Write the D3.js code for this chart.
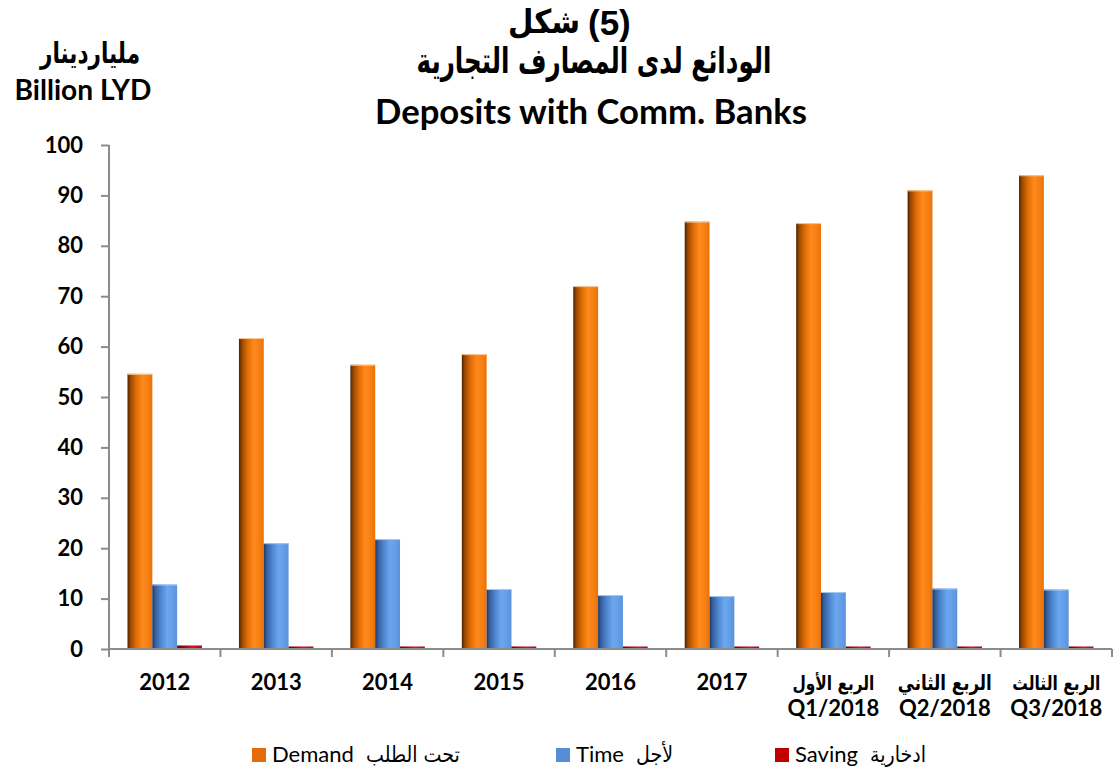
<!DOCTYPE html>
<html><head><meta charset="utf-8">
<script src="https://cdn.jsdelivr.net/npm/d3@7/dist/d3.min.js"></script>
<style>
html,body{margin:0;padding:0;background:#fff;}
svg{display:block;}
</style></head>
<body>
<svg id="chart" width="1114" height="775"></svg>
<script>
// ---------- data ----------
const categories = ["2012","2013","2014","2015","2016","2017","Q1/2018","Q2/2018","Q3/2018"];
const categoriesAr = ["","","","","","","الربع الأول","الربع الثاني","الربع الثالث"];
const demand = [54.6, 61.7, 56.4, 58.5, 72.0, 84.8, 84.5, 91.0, 94.0];
const time   = [12.8, 21.0, 21.8, 11.9, 10.7, 10.5, 11.3, 12.0, 11.8];
const saving = [0.7, 0.5, 0.5, 0.5, 0.5, 0.5, 0.5, 0.5, 0.5];
const seriesNames = ["Demand","Time","Saving"];
const seriesAr = ["تحت الطلب","لأجل","ادخارية"];
const yTicks = [0,10,20,30,40,50,60,70,80,90,100];

const EN = "Lato, 'Open Sans', sans-serif";
const AR = "'DejaVu Sans', sans-serif";
const ARIAL = "'Liberation Sans', Arial, sans-serif";

const svg = d3.select("#chart");
const defs = svg.append("defs");

function grad(id, stops){
  const g = defs.append("linearGradient").attr("id", id)
    .attr("x1","0%").attr("x2","100%").attr("y1","0%").attr("y2","0%");
  stops.forEach(s => g.append("stop").attr("offset", s[0]).attr("stop-color", s[1]));
}
grad("gOrange", [["0%","#4a2200"],["12%","#9a4800"],["35%","#e06c05"],["60%","#ff8a1c"],["85%","#f57e12"],["100%","#e87208"]]);
grad("gBlue",   [["0%","#1c3560"],["12%","#35609e"],["35%","#4f86d0"],["60%","#6ba7ef"],["85%","#629ce6"],["100%","#5a91da"]]);
grad("gRed",    [["0%","#6a0000"],["30%","#b00010"],["60%","#d81030"],["100%","#c00010"]]);
const fills = ["url(#gOrange)","url(#gBlue)","url(#gRed)"];
const legendColors = ["#e36c09","#558ed5","#c00000"];

// ---------- scales ----------
const plotL = 109, plotR = 1112, plotT = 145, plotB = 649;
const x0 = d3.scaleBand().domain(categories).range([plotL, plotR]).paddingInner(0).paddingOuter(0);
const groupW = x0.bandwidth() * 0.668;
const x1 = d3.scaleBand().domain(seriesNames).range([0, groupW]).padding(0);
const y = d3.scaleLinear().domain([0,100]).range([plotB, plotT]);

const rows = categories.map((c,i) => ({c, vals:[demand[i], time[i], saving[i]]}));

// ---------- bars ----------
const groups = svg.append("g").selectAll("g").data(rows).join("g")
  .attr("transform", d => `translate(${x0(d.c) + (x0.bandwidth()-groupW)/2},0)`);
groups.selectAll("rect").data(d => d.vals.map((v,k)=>({v,k}))).join("rect")
  .attr("x", d => x1(seriesNames[d.k]))
  .attr("y", d => y(d.v))
  .attr("width", x1.bandwidth())
  .attr("height", d => y(0) - y(d.v))
  .attr("fill", d => fills[d.k]);
groups.selectAll("line.top").data(d => d.vals.slice(0,2).map((v,k)=>({v,k}))).join("line")
  .attr("class","top")
  .attr("x1", d => x1(seriesNames[d.k])).attr("x2", d => x1(seriesNames[d.k]) + x1.bandwidth())
  .attr("y1", d => y(d.v)+0.5).attr("y2", d => y(d.v)+0.5)
  .attr("stroke", d => d.k===0 ? "#f8c89a" : "#a8c8f0").attr("stroke-width",1);

// ---------- axes ----------
const axisColor = "#8c8c8c";
const yAxis = svg.append("g").attr("transform", `translate(${plotL},0)`)
  .call(d3.axisLeft(y).tickValues(yTicks).tickSize(8).tickPadding(18));
yAxis.select(".domain").remove();
yAxis.selectAll(".tick line").attr("stroke", axisColor).attr("stroke-width", 2);
yAxis.selectAll(".tick text").attr("fill","#000").style("font-family", EN)
  .style("font-weight","bold").style("font-size","22px");
svg.append("line").attr("x1", plotL).attr("x2", plotL).attr("y1", plotT).attr("y2", plotB+8)
  .attr("stroke", axisColor).attr("stroke-width", 2);

svg.append("line").attr("x1", plotL).attr("x2", plotR).attr("y1", plotB).attr("y2", plotB)
  .attr("stroke", axisColor).attr("stroke-width", 2);
const bounds = categories.map(c => x0(c)).concat([plotR]);
svg.append("g").selectAll("line").data(bounds).join("line")
  .attr("x1", d=>d).attr("x2", d=>d).attr("y1", plotB).attr("y2", plotB+8)
  .attr("stroke", axisColor).attr("stroke-width", 2);

// helpers
function fit(sel, target){
  const w = sel.node().getComputedTextLength();
  const fs = parseFloat(sel.style("font-size"));
  if (w > 0) sel.style("font-size", (fs*target/w) + "px");
  return sel;
}
function arText(parent, cx, by, txt, size, target, stretch, anchor){
  const t = parent.append("text").attr("x", 0).attr("y", 0)
    .attr("text-anchor", anchor || "middle").attr("direction","rtl")
    .attr("transform", `translate(${cx},${by}) scale(1,${stretch})`)
    .style("font-family", AR).style("font-weight","bold").style("font-size", size+"px").text(txt);
  if (target) fit(t, target);
  return t;
}

// category labels
const xl = svg.append("g");
const arW = [0,0,0,0,0,0,82,94,88];
rows.forEach((d,i) => {
  const cx = x0(d.c) + x0.bandwidth()/2;
  if (categoriesAr[i]) {
    arText(xl, cx, 690, categoriesAr[i], 18, arW[i], 1.25);
    xl.append("text").attr("x", cx).attr("y", 716).attr("text-anchor","middle")
      .style("font-family", EN).style("font-weight","bold").style("font-size","22px").text(d.c);
  } else {
    xl.append("text").attr("x", cx).attr("y", 690).attr("text-anchor","middle")
      .style("font-family", EN).style("font-weight","bold").style("font-size","22px").text(d.c);
  }
});

// ---------- titles ----------
arText(svg, 580, 33, "شكل", 24, 72, 1.12, "start");
svg.append("text").attr("x", 588).attr("y", 35).attr("text-anchor","start")
  .style("font-family", ARIAL).style("font-weight","bold").style("font-size","35px").text("(5)");
arText(svg, 594, 73, "الودائع لدى المصارف التجارية", 26, 355, 1.45);
fit(svg.append("text").attr("x", 591).attr("y", 124).attr("text-anchor","middle")
  .style("font-family", EN).style("font-weight","bold").style("font-size","34px").text("Deposits with Comm. Banks"), 432);
arText(svg, 90, 63, "ملياردينار", 22, 100, 1.35);
fit(svg.append("text").attr("x", 83).attr("y", 100).attr("text-anchor","middle")
  .style("font-family", EN).style("font-weight","bold").style("font-size","24px").text("Billion LYD"), 137);

// ---------- legend ----------
const legendX = [252, 556, 775];
const legendEnW = [82, 48, 63];
const lg = svg.append("g");
seriesNames.forEach((s,k) => {
  lg.append("rect").attr("x", legendX[k]).attr("y", 748).attr("width", 14).attr("height", 14)
    .attr("fill", legendColors[k]);
  const t = lg.append("text").attr("x", legendX[k]+20).attr("y", 762)
    .style("font-family", EN).style("font-size","22px").text(s);
  fit(t, legendEnW[k]);
  const ax = legendX[k] + 20 + legendEnW[k] + 12;
  lg.append("text").attr("x", 0).attr("y", 0).attr("text-anchor","start")
    .attr("transform", `translate(${ax},762) scale(1,1.15)`)
    .style("font-family", AR).style("font-size","19px").text(seriesAr[k]);
});
</script>
</body></html>
